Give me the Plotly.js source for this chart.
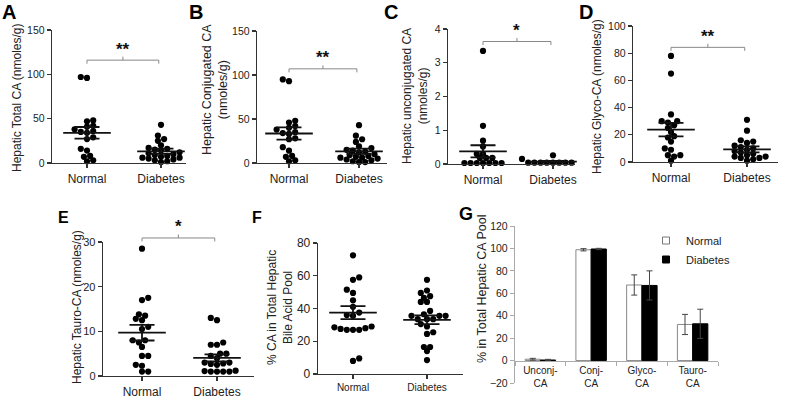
<!DOCTYPE html>
<html><head><meta charset="utf-8">
<script src="https://cdn.plot.ly/plotly-3.0.1.min.js"></script>
<style>html,body{margin:0;padding:0;background:#fff}#chart{width:785px;height:403px}</style>
</head><body><div id="chart"></div>
<script>
// ---------------- DATA ----------------
const groups = ['Normal', 'Diabetes'];

// A: Hepatic total CA (nmoles/g)
const totalCANormal   = [96, 97, 48, 47, 42, 41, 38, 36, 35, 34, 29, 27, 16, 14, 8, 7, 3, 2];
const totalCADiabetes = [43, 31, 27, 25, 20, 17, 16, 15, 14, 12, 11, 10, 9, 8, 7, 6, 6, 5, 4, 3, 2, 1];
const totalCAMean = [34, 13.2];
const totalCASem  = [6.6, 3.0];

// B: Hepatic conjugated CA (nmoles/g)
const conjCANormal   = [95, 93, 48, 46, 42, 40, 38, 35, 34, 33, 28, 27, 18, 14, 8, 7, 3, 2];
const conjCADiabetes = [43, 31, 27, 24, 19, 17, 15, 14, 13, 12, 10, 9, 8, 7, 6, 6, 5, 4, 3, 2, 1, 1];
const conjCAMean = [33.5, 13.3];
const conjCASem  = [7.0, 3.0];

// C: Hepatic unconjugated CA (nmoles/g)
const unconjCANormal   = [3.35, 1.13, 0.69, 0.52, 0.3, 0.3, 0.18, 0.18, 0.18, 0.03, 0.03, 0.03, 0.03, 0.03, 0.03, 0.03];
const unconjCADiabetes = [0.26, 0.15, 0.15, 0.04, 0.04, 0.04, 0.04, 0.04, 0.04, 0.04, 0.04, 0.04, 0.04];
const unconjCAMean = [0.375, 0.07];
const unconjCASem  = [0.18, 0.02];

// D: Hepatic glyco-CA (nmoles/g)
const glycoCANormal   = [78, 65, 35, 30, 30, 29, 27, 25, 22, 19, 18, 15, 10, 9, 5, 5, 4, 1];
const glycoCADiabetes = [31, 23, 16, 15, 14, 12, 11, 10, 9, 8, 7, 6, 5, 4, 4, 3, 3, 2, 1];
const glycoCAMean = [23.8, 9.3];
const glycoCASem  = [4.9, 2.2];

// E: Hepatic tauro-CA (nmoles/g)
const tauroCANormal   = [28.5, 17.5, 17, 13.8, 13.5, 12.5, 12.8, 11, 10.5, 8, 8, 7.5, 6.5, 4.5, 4.5, 2.5, 2.3, 1, 1];
const tauroCADiabetes = [13, 12.5, 7.5, 7, 7, 5, 5, 4.5, 4, 3, 3, 2.8, 2.7, 2.5, 1.2, 1, 1, 1, 1, 1.1];
const tauroCAMean = [9.7, 4.05];
const tauroCASem  = [1.75, 0.8];

// F: % CA in total hepatic bile acid pool
const pctCANormal   = [72.5, 59, 57.5, 51.5, 49.5, 45, 41, 37.5, 36, 35.5, 29, 28, 27.5, 27, 27, 27, 28.5, 9.5, 8];
const pctCADiabetes = [57.5, 51, 49.5, 46.5, 47.5, 44, 44, 38.5, 36.5, 35.5, 35.5, 35.5, 33.5, 33.5, 33.5, 30.5, 29, 24.5, 25.5, 16.5, 16.5, 14, 8.5];
const pctCAMean = [37.5, 33.1];
const pctCASem  = [4.0, 2.7];

// G: % in total hepatic CA pool
const poolCategories   = ['Unconj-<br>CA', 'Conj-<br>CA', 'Glyco-<br>CA', 'Tauro-<br>CA'];
const poolNormal       = [1.2, 98.8, 67.4, 32.2];
const poolNormalErr    = [0.8, 1.0, 9, 9];
const poolDiabetes     = [0.5, 99.5, 67, 32.8];
const poolDiabetesErr  = [0.6, 0.6, 13, 13];

// significance brackets (panels A-E), in each panel's y units
const bracketLevel = [116, 107, 3.63, 84.3, 30.9];
const sigLabels    = ['**', '**', '*', '**', '*'];

// ---------------- LAYOUT ----------------
const W = 785, H = 403;
const FONT = 'Liberation Sans, Arial, sans-serif';
const px = v => v / W, py = v => 1 - v / H;

const specs = [
  {L:52,  R:186, T:30,  B:163, c1:87,  c2:161, yr:[0,150], dt:50, n:totalCANormal,  d:totalCADiabetes,  m:totalCAMean,  s:totalCASem,
   title:'Hepatic Total CA (nmoles/g)', tx:17, ty:98, tfs:12, letter:'A', lx:9, ly:12, lfs:20, yfs:10.5, xfs:12},
  {L:257, R:387, T:31,  B:163, c1:289, c2:359, yr:[0,150], dt:50, n:conjCANormal,   d:conjCADiabetes,   m:conjCAMean,   s:conjCASem,
   title:'Hepatic Conjugated CA<br>(nmoles/g)', tx:215, ty:90, tfs:12.5, letter:'B', lx:196, ly:12, lfs:20, yfs:10.5, xfs:12},
  {L:448, R:575, T:29,  B:164, c1:483, c2:553, yr:[0,4],   dt:1,  n:unconjCANormal, d:unconjCADiabetes, m:unconjCAMean, s:unconjCASem,
   title:'Hepatic unconjugated CA<br>(nmoles/g)', tx:415, ty:96, tfs:12, letter:'C', lx:391, ly:12, lfs:20, yfs:10.5, xfs:12},
  {L:633, R:778, T:26,  B:162, c1:671, c2:747, yr:[0,100], dt:20, n:glycoCANormal,  d:glycoCADiabetes,  m:glycoCAMean,  s:glycoCASem,
   title:'Hepatic Glyco-CA (nmoles/g)', tx:597, ty:97, tfs:12, letter:'D', lx:586, ly:12, lfs:20, yfs:10.5, xfs:12},
  {L:103, R:254, T:242, B:376, c1:142, c2:217, yr:[0,30],  dt:10, n:tauroCANormal,  d:tauroCADiabetes,  m:tauroCAMean,  s:tauroCASem,
   title:'Hepatic Tauro-CA (nmoles/g)', tx:77, ty:307, tfs:12, letter:'E', lx:63, ly:217, lfs:16, yfs:11, xfs:12},
  {L:318, R:463, T:243, B:374, c1:353, c2:427, yr:[0,80],  dt:20, n:pctCANormal,    d:pctCADiabetes,    m:pctCAMean,    s:pctCASem,
   title:'% CA in Total Hepatic<br>Bile Acid Pool', tx:280, ty:308, tfs:12, letter:'F', lx:257, ly:217, lfs:16, yfs:12, xfs:10},
];

const DOT = 6.2, SP = 6.2, MINDIST = 0.82;

// simple beeswarm: horizontal offsets in px
function swarm(vals, pxPerY) {
  const order = vals.map((v, i) => i).sort((a, b) => vals[a] - vals[b]);
  const placed = [], off = new Array(vals.length);
  let bal = 0;
  for (const i of order) {
    const y = vals[i] * pxPerY;
    let best = null;
    for (let k = 0; k < 80 && best === null; k++) {
      const c = k === 0 ? [0] : (bal > 0 ? [-k * SP / 2, k * SP / 2] : [k * SP / 2, -k * SP / 2]);
      for (const x of c) {
        if (placed.every(p => Math.hypot(p.x - x, p.y - y) >= SP * MINDIST)) { best = x; break; }
      }
    }
    placed.push({x: best, y}); off[i] = best; bal += best;
  }
  return off;
}

const data = [], shapes = [], annotations = [];
const layout = {
  width: W, height: H, margin: {l:0, r:0, t:0, b:0},
  paper_bgcolor: '#fff', plot_bgcolor: 'rgba(0,0,0,0)',
  font: {family: FONT, color: '#222'},
  showlegend: true, barmode: 'group', bargap: 0.4, bargroupgap: 0,
  legend: {x: px(646), y: py(226), xanchor: 'left', yanchor: 'top', bgcolor: 'rgba(0,0,0,0)',
           font: {size: 11, family: FONT, color: '#222'}, tracegroupgap: 0},
};

specs.forEach((sp, k) => {
  const id = k === 0 ? '' : String(k + 1);
  const xa = 'x' + id, ya = 'y' + id;
  const pxX = sp.c2 - sp.c1;
  const pxY = (sp.B - sp.T) / (sp.yr[1] - sp.yr[0]);
  const xr = [1 - (sp.c1 - sp.L) / pxX, 2 + (sp.R - sp.c2) / pxX];
  layout['xaxis' + id] = {
    domain: [px(sp.L), px(sp.R)], anchor: ya, range: xr,
    tickvals: [1, 2], ticktext: groups, ticks: 'outside', ticklen: 4, tickwidth: 1.2,
    tickcolor: '#333', showline: true, linecolor: '#333', linewidth: 1.3,
    showgrid: false, zeroline: false, tickfont: {size: sp.xfs, family: FONT, color: '#222'}, fixedrange: true,
  };
  layout['yaxis' + id] = {
    domain: [py(sp.B), py(sp.T)], anchor: xa, range: sp.yr, dtick: sp.dt, tick0: 0,
    ticks: 'outside', ticklen: 4, tickwidth: 1.2, tickcolor: '#333',
    showline: true, linecolor: '#333', linewidth: 1.3, showgrid: false, zeroline: false,
    tickfont: {size: sp.yfs, family: FONT, color: '#222'}, fixedrange: true,
  };
  [sp.n, sp.d].forEach((vals, g) => {
    const off = swarm(vals, pxY);
    data.push({
      type: 'scatter', mode: 'markers', xaxis: xa, yaxis: ya, showlegend: false, cliponaxis: false,
      x: vals.map((v, i) => g + 1 + off[i] / pxX), y: vals,
      marker: {color: '#000', size: DOT},
    });
  });
  data.push({
    type: 'scatter', mode: 'markers', xaxis: xa, yaxis: ya, showlegend: false, cliponaxis: false,
    x: [1, 2], y: sp.m,
    marker: {symbol: 'line-ew', size: 34, color: '#000', line: {color: '#111', width: 1.8}},
    error_y: {type: 'data', array: sp.s, visible: true, width: 12.5, thickness: 1.8, color: '#111'},
  });
  annotations.push({xref: 'paper', yref: 'paper', x: px(sp.tx), y: py(sp.ty), text: sp.title, textangle: -90,
    showarrow: false, xanchor: 'center', yanchor: 'middle', font: {size: sp.tfs, family: FONT, color: '#222'}});
  annotations.push({xref: 'paper', yref: 'paper', x: px(sp.lx), y: py(sp.ly), text: '<b>' + sp.letter + '</b>',
    showarrow: false, xanchor: 'center', yanchor: 'middle', font: {size: sp.lfs, family: FONT, color: '#000'}});
  if (k < bracketLevel.length) {
    // bracket drawn in paper space, positioned from the panel's own y scale
    const toX = x => px(sp.L + (x - xr[0]) * pxX);
    const yb = sp.B - (bracketLevel[k] - sp.yr[0]) * pxY;
    const x1 = toX(1), x2 = toX(1.97), xm = (x1 + x2) / 2;
    shapes.push({type: 'path', xref: 'paper', yref: 'paper', layer: 'above',
      path: `M${x1},${py(yb + 3.5)} L${x1},${py(yb)} L${x2},${py(yb)} L${x2},${py(yb + 3.5)} M${xm},${py(yb)} L${xm},${py(yb - 3.5)}`,
      line: {color: '#888', width: 1}});
    annotations.push({xref: 'paper', yref: 'paper', x: xm, y: py(yb), text: '<b>' + sigLabels[k] + '</b>', showarrow: false,
      xanchor: 'center', yanchor: 'middle', yshift: 11, font: {size: 17, family: FONT, color: '#111'}});
  }
});

// Panel G
const G = {L:515, R:718, T:226, B:383, yr:[-20, 120]};
const zeroPix = G.T + (G.yr[1] - 0) / (G.yr[1] - G.yr[0]) * (G.B - G.T);
layout.xaxis7 = {
  domain: [px(G.L), px(G.R)], anchor: 'free', position: py(zeroPix), type: 'category',
  range: [-0.5, 3.5], tickson: 'boundaries', ticks: 'outside', ticklen: 4, tickcolor: '#aaa',
  showline: true, linecolor: '#aaa', linewidth: 1.2, showgrid: false, zeroline: false,
  tickfont: {size: 10, family: FONT, color: '#222'}, fixedrange: true,
};
layout.yaxis7 = {
  domain: [py(G.B), py(G.T)], anchor: 'x7', range: G.yr, dtick: 20, tick0: 0,
  ticks: 'outside', ticklen: 4, tickcolor: '#aaa', showline: true, linecolor: '#aaa', linewidth: 1.2,
  showgrid: false, zeroline: false, tickfont: {size: 10.5, family: FONT, color: '#222'}, fixedrange: true,
};
data.push({
  type: 'bar', name: 'Normal', xaxis: 'x7', yaxis: 'y7', x: poolCategories, y: poolNormal, showlegend: false,
  marker: {color: '#fff', line: {color: '#888', width: 1}},
  error_y: {type: 'data', array: poolNormalErr, visible: true, width: 3, thickness: 1, color: '#444'},
});
data.push({
  type: 'bar', name: 'Diabetes', xaxis: 'x7', yaxis: 'y7', x: poolCategories, y: poolDiabetes, showlegend: false,
  marker: {color: '#000', line: {color: '#000', width: 1}},
  error_y: {type: 'data', array: poolDiabetesErr, visible: true, width: 3, thickness: 1, color: '#444'},
});
// legend keys (small squares, as in the original figure)
data.push({type: 'scatter', mode: 'markers', name: 'Normal', xaxis: 'x7', yaxis: 'y7', x: [null], y: [null],
  marker: {symbol: 'square', size: 7, color: '#fff', line: {color: '#777', width: 1}}});
data.push({type: 'scatter', mode: 'markers', name: 'Diabetes', xaxis: 'x7', yaxis: 'y7', x: [null], y: [null],
  marker: {symbol: 'square', size: 7, color: '#000', line: {color: '#000', width: 1}}});

annotations.push({xref: 'paper', yref: 'paper', x: px(482), y: py(289), text: '% in Total Hepatic CA Pool', textangle: -90,
  showarrow: false, xanchor: 'center', yanchor: 'middle', font: {size: 12.5, family: FONT, color: '#222'}});
annotations.push({xref: 'paper', yref: 'paper', x: px(466), y: py(214), text: '<b>G</b>',
  showarrow: false, xanchor: 'center', yanchor: 'middle', font: {size: 18, family: FONT, color: '#000'}});

layout.shapes = shapes;
layout.annotations = annotations;
Plotly.newPlot('chart', data, layout, {displayModeBar: false, staticPlot: true});
</script></body></html>
